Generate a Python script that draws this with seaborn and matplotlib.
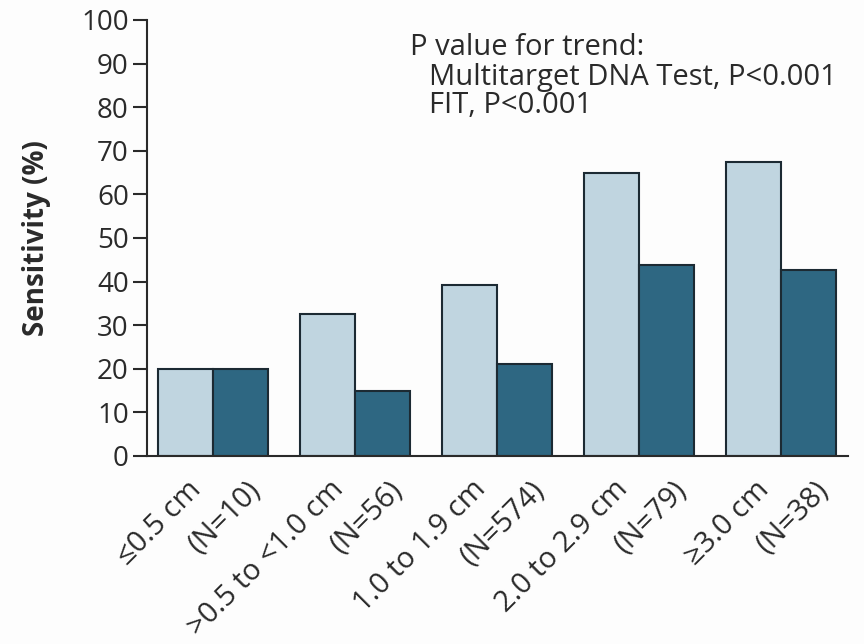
import matplotlib
matplotlib.use("Agg")
import matplotlib.pyplot as plt
import matplotlib.transforms as mtransforms
import seaborn as sns
import pandas as pd

# Lesion size groups and sample sizes
size_groups = ["≤0.5 cm", ">0.5 to <1.0 cm", "1.0 to 1.9 cm", "2.0 to 2.9 cm", "≥3.0 cm"]
group_n = ["(N=10)", "(N=56)", "(N=574)", "(N=79)", "(N=38)"]

# Sensitivity (%) for each test
tests = ["Multitarget DNA Test", "FIT"]
dna_sensitivity = [20.0, 32.6, 39.1, 64.9, 67.4]
fit_sensitivity = [20.0, 14.8, 21.1, 43.9, 42.7]

y_ticks = list(range(0, 101, 10))

df = pd.DataFrame({
    "size": size_groups * 2,
    "test": [tests[0]] * len(size_groups) + [tests[1]] * len(size_groups),
    "sensitivity": dna_sensitivity + fit_sensitivity,
})

sns.set_theme(style="white")
FONT = ["Open Sans", "DejaVu Sans"]
plt.rcParams["font.family"] = FONT
ink = "#2a2a2a"
fs = 21

fig = plt.figure(figsize=(8.64, 6.44), dpi=100)
fig.patch.set_facecolor("#fdfdfd")
ax = fig.add_axes([0.170, 0.292, 0.811, 0.677])
ax.set_facecolor("#fdfdfd")

sns.barplot(
    data=df, x="size", y="sensitivity", hue="test",
    order=size_groups, hue_order=tests,
    palette=["#c0d5e0", "#2e6782"], saturation=1,
    width=0.775, gap=0, edgecolor="#1c2a33", linewidth=1.5,
    legend=False, ax=ax,
)

ax.set_ylim(0, 100)
ax.set_xlim(-0.465, 4.47)
ax.set_yticks(y_ticks)
ax.set_yticklabels([str(t) for t in y_ticks], fontsize=20, color=ink)
ax.tick_params(axis="y", length=10, width=1.5, color=ink, pad=3, direction="out", left=True)
ax.tick_params(axis="x", length=0, labelbottom=False)
ax.set_xlabel("")
ax.set_ylabel("Sensitivity (%)", fontsize=20, fontweight="bold", color=ink, labelpad=22)

for side in ("top", "right"):
    ax.spines[side].set_visible(False)
for side in ("left", "bottom"):
    ax.spines[side].set_color(ink)
    ax.spines[side].set_linewidth(1.5)

# Two-line rotated category labels under each bar pair
base = ax.get_xaxis_transform()
for i, (size_txt, n_txt) in enumerate(zip(size_groups, group_n)):
    off1 = mtransforms.ScaledTranslation(-26 / 100, -19 / 100, fig.dpi_scale_trans)
    ax.text(i, 0, size_txt, transform=base + off1, rotation=45,
            rotation_mode="anchor", ha="right", va="top", fontsize=fs, color=ink)
    off2 = mtransforms.ScaledTranslation(33 / 100, -19 / 100, fig.dpi_scale_trans)
    ax.text(i, 0, n_txt, transform=base + off2, rotation=45,
            rotation_mode="anchor", ha="right", va="top", fontsize=fs, color=ink)

# Trend test annotation
ax.text(0.375, 0.920, "P value for trend:", transform=ax.transAxes,
        fontsize=fs, color=ink, va="baseline", ha="left")
ax.text(0.402, 0.851, "Multitarget DNA Test, P<0.001", transform=ax.transAxes,
        fontsize=fs, color=ink, va="baseline", ha="left")
ax.text(0.402, 0.786, "FIT, P<0.001", transform=ax.transAxes,
        fontsize=fs, color=ink, va="baseline", ha="left")

fig.savefig("out.png", dpi=100, facecolor=fig.get_facecolor())
